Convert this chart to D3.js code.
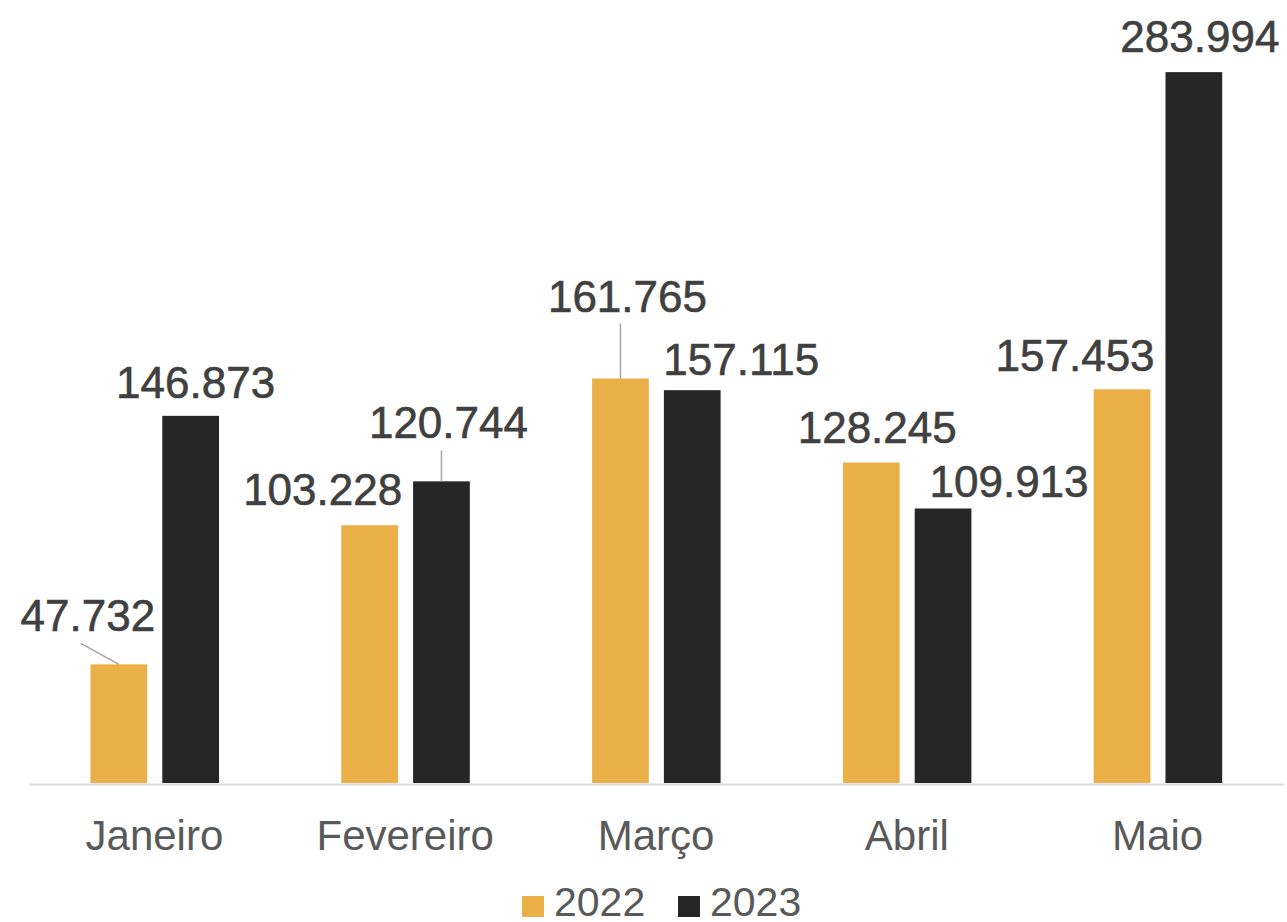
<!DOCTYPE html>
<html>
<head>
<meta charset="utf-8">
<script src="https://cdn.jsdelivr.net/npm/d3@7"></script>
<style>
  html, body { margin: 0; padding: 0; background: #ffffff; }
  svg { display: block; font-family: "Liberation Sans", Arial, sans-serif; }
</style>
</head>
<body>
<svg id="chart" width="1287" height="922"></svg>
<script>
// ---- data ----
const categories = ["Janeiro", "Fevereiro", "Março", "Abril", "Maio"];
const seriesNames = ["2022", "2023"];
const values2022 = [47.732, 103.228, 161.765, 128.245, 157.453];
const values2023 = [146.873, 120.744, 157.115, 109.913, 283.994];
const valueLabels2022 = ["47.732", "103.228", "161.765", "128.245", "157.453"];
const valueLabels2023 = ["146.873", "120.744", "157.115", "109.913", "283.994"];

// ---- layout / style (label nudges in px, leader line flags) ----
const nudge2022 = [[-31, -15], [-47, -2], [7, -49], [6, -2], [-47, 0]];
const nudge2023 = [[5, 0], [7, -25], [49, 3], [66, 7], [6, -2]];
const leader2022 = [true, false, true, false, false];
const leader2023 = [false, true, false, false, false];
const colors = { "2022": "#EAAF47", "2023": "#262626" };

const svg = d3.select("#chart");
const baseY = 784;

const x0 = d3.scaleBand().domain(categories).range([29, 1283]).paddingInner(0).paddingOuter(0);
const x1 = d3.scaleBand().domain(seriesNames).range([61.5, 190]).paddingInner(0.21).paddingOuter(0);
const y = d3.scaleLinear().domain([0, 300]).range([baseY, 32]);

const rows = categories.map((c, i) => ({
  cat: c,
  items: [
    { s: "2022", v: values2022[i], lab: valueLabels2022[i], n: nudge2022[i], lead: leader2022[i] },
    { s: "2023", v: values2023[i], lab: valueLabels2023[i], n: nudge2023[i], lead: leader2023[i] }
  ]
}));

// axis
const xAxis = d3.axisBottom(x0).tickSize(0).tickPadding(0);
const gx = svg.append("g").attr("transform", `translate(0,${baseY})`).call(xAxis);
gx.select(".domain").attr("stroke", "#d9d9d9").attr("stroke-width", 2);
gx.selectAll(".tick text")
  .attr("y", 66)
  .attr("dy", 0)
  .attr("fill", "#595959")
  .style("font-size", "42px")
  .style("font-family", "'Liberation Sans', Arial, sans-serif");

// bars
const groups = svg.append("g").selectAll("g").data(rows).join("g")
  .attr("transform", d => `translate(${x0(d.cat)},0)`);

groups.selectAll("rect").data(d => d.items).join("rect")
  .attr("x", d => x1(d.s))
  .attr("width", x1.bandwidth())
  .attr("y", d => y(d.v))
  .attr("height", d => baseY - 1 - y(d.v))
  .attr("fill", d => colors[d.s]);

// leader lines
groups.selectAll("line.lead").data(d => d.items.filter(it => it.lead)).join("line")
  .attr("class", "lead")
  .attr("x1", d => {
    const cx = x1(d.s) + x1.bandwidth() / 2;
    return d.n[0] < -15 ? cx + d.n[0] - 7 : cx;
  })
  .attr("y1", d => y(d.v) - 18 + d.n[1] + 12)
  .attr("x2", d => x1(d.s) + x1.bandwidth() / 2)
  .attr("y2", d => y(d.v))
  .attr("stroke", "#a6a6a6")
  .attr("stroke-width", 1.5);

// value labels
groups.selectAll("text.val").data(d => d.items).join("text")
  .attr("class", "val")
  .attr("x", d => x1(d.s) + x1.bandwidth() / 2 + d.n[0])
  .attr("y", d => y(d.v) - 18 + d.n[1])
  .attr("text-anchor", "middle")
  .attr("fill", "#404040")
  .attr("stroke", "#404040")
  .attr("stroke-width", 0.6)
  .style("font-size", "44px")
  .text(d => d.lab);

// legend
const legend = svg.append("g");
const legX = [522, 678];
seriesNames.forEach((s, i) => {
  legend.append("rect")
    .attr("x", legX[i]).attr("y", 896).attr("width", 22).attr("height", 21)
    .attr("fill", colors[s]);
  legend.append("text")
    .attr("x", legX[i] + 32).attr("y", 916)
    .attr("fill", "#595959")
    .style("font-size", "41px")
    .text(s);
});
</script>
</body>
</html>
